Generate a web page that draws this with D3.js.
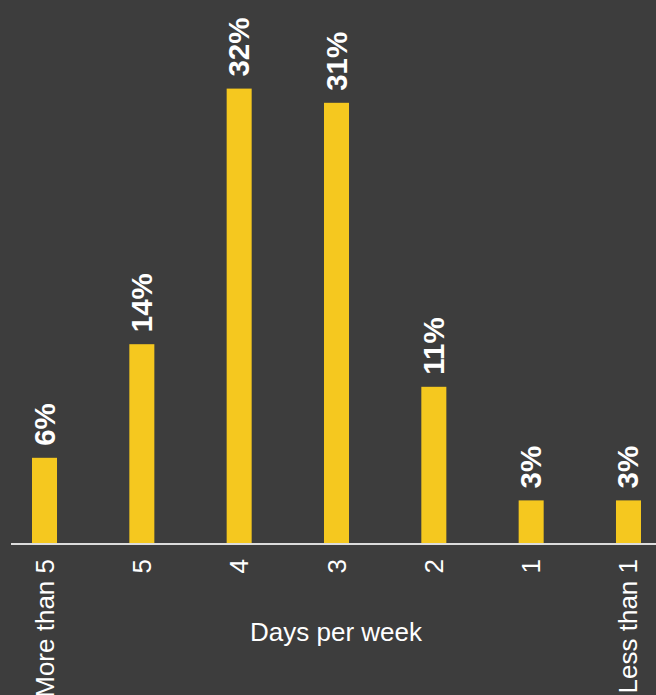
<!DOCTYPE html>
<html>
<head>
<meta charset="utf-8">
<script src="https://cdn.jsdelivr.net/npm/d3@7"></script>
<style>
  html, body { margin: 0; padding: 0; background: #3d3d3d; }
  svg { display: block; }
</style>
</head>
<body>
<div class="plot"></div>
<script>
// categories and values (percent)
let categories = ["More than 5", "5", "4", "3", "2", "1", "Less than 1"]
let values = [6, 14, 32, 31, 11, 3, 3]
let xTitle = "Days per week"

let width = 656, height = 695
let baseY = 543

let svg = d3.select(".plot")
  .append("svg")
  .attr("width", width)
  .attr("height", height)

svg.append("rect")
  .attr("width", width)
  .attr("height", height)
  .attr("fill", "#3d3d3d")

// x band scale
let xScale = d3.scaleBand()
  .domain(categories)
  .range([32, 641])
  .paddingInner(0.743)
  .paddingOuter(0)

// y scale
let yScale = d3.scaleLinear()
  .domain([0, baseY / 14.2])
  .range([baseY, 0])

// bars
svg.selectAll(".bar")
  .data(values)
  .enter()
  .append("rect")
  .attr("class", "bar")
  .attr("x", function(d, i){ return xScale(categories[i]) })
  .attr("y", function(d){ return yScale(d) })
  .attr("width", xScale.bandwidth())
  .attr("height", function(d){ return baseY - yScale(d) })
  .attr("fill", "#f5c81f")

// value labels
svg.selectAll(".vlabel")
  .data(values)
  .enter()
  .append("text")
  .attr("class", "vlabel")
  .attr("transform", function(d, i){
    let cx = xScale(categories[i]) + xScale.bandwidth() / 2
    return "translate(" + (cx + 10) + "," + (yScale(d) - 12) + ") rotate(-90)"
  })
  .style("font-family", "'Liberation Sans', Arial, sans-serif")
  .style("font-size", "29.5px")
  .style("font-weight", "bold")
  .attr("fill", "#ffffff")
  .attr("text-anchor", "start")
  .text(function(d){ return d + "%" })

// x axis
let xAxis = d3.axisBottom(xScale).tickSize(0).tickPadding(0)
let gx = svg.append("g")
  .attr("class", "axis")
  .attr("transform", "translate(0," + baseY + ")")
  .call(xAxis)
gx.select(".domain").remove()
gx.append("line")
  .attr("x1", 11)
  .attr("x2", width)
  .attr("y1", 1)
  .attr("y2", 1)
  .attr("stroke", "#dddddd")
  .attr("stroke-width", 2)
gx.selectAll(".tick text")
  .attr("transform", "translate(9,16) rotate(-90)")
  .attr("x", 0)
  .attr("y", 0)
  .attr("dy", 0)
  .attr("text-anchor", "end")
  .attr("fill", "#ffffff")
  .style("font-family", "'Liberation Sans', Arial, sans-serif")
  .style("font-size", "26px")

// axis title
svg.append("text")
  .attr("x", 336)
  .attr("y", 641)
  .attr("text-anchor", "middle")
  .attr("fill", "#ffffff")
  .style("font-family", "'Liberation Sans', Arial, sans-serif")
  .style("font-size", "26px")
  .text(xTitle)
</script>
</body>
</html>
